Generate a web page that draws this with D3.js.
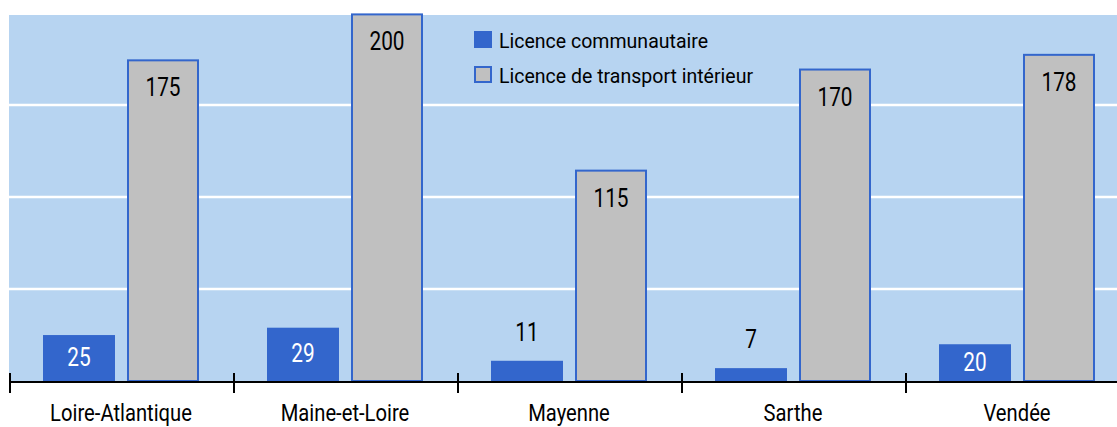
<!DOCTYPE html>
<html>
<head>
<meta charset="utf-8">
<script src="https://cdn.jsdelivr.net/npm/d3@7/dist/d3.min.js"></script>
<style>
  html, body { margin: 0; padding: 0; background: #ffffff; overflow: hidden; }
  svg { display: block; font-family: Roboto, "Liberation Sans", sans-serif; font-weight: 400; }
</style>
</head>
<body>
<svg id="chart" width="1117" height="427"></svg>
<script>
const categories = ["Loire-Atlantique", "Maine-et-Loire", "Mayenne", "Sarthe", "Vendée"];
const seriesNames = ["Licence communautaire", "Licence de transport intérieur"];
const communautaire = [25, 29, 11, 7, 20];
const interieur = [175, 200, 115, 170, 178];
const gridTicks = [50, 100, 150];

const W = 1117, H = 427;
const blue = "#3366cc", gray = "#c0c0c0", bg = "#b7d4f1";
const svg = d3.select("#chart");

const plotLeft = 9, plotTop = 15, baseY = 381, bandW = 224;
const x0 = d3.scaleBand().domain(categories).range([plotLeft, plotLeft + bandW * categories.length]).padding(0);
const x1 = d3.scaleBand().domain(seriesNames).range([34, bandW - 34]).paddingInner(1 / 7).paddingOuter(0);
const y = d3.scaleLinear().domain([0, 200]).range([baseY, 13.4]);

// condensed text helper
function ctext(sel, x, yy, sx) {
  return sel.attr("transform", (d, i) => {
    const xv = typeof x === "function" ? x(d, i) : x;
    const yv = typeof yy === "function" ? yy(d, i) : yy;
    return `translate(${xv},${yv}) scale(${sx},1)`;
  });
}

// background
svg.append("rect").attr("x", plotLeft).attr("y", plotTop).attr("width", W - plotLeft).attr("height", baseY - plotTop).attr("fill", bg);

// gridlines
svg.append("g").selectAll("line").data(gridTicks).join("line")
  .attr("x1", plotLeft).attr("x2", W)
  .attr("y1", d => Math.round(y(d))).attr("y2", d => Math.round(y(d)))
  .attr("stroke", "#ffffff").attr("stroke-width", 2.5);

const data = categories.map((c, i) => ({ cat: c, vals: [communautaire[i], interieur[i]] }));

const groups = svg.append("g").selectAll("g").data(data).join("g")
  .attr("transform", d => `translate(${x0(d.cat)},0)`);

// blue bars
groups.append("rect")
  .attr("x", x1(seriesNames[0])).attr("width", x1.bandwidth())
  .attr("y", d => y(d.vals[0])).attr("height", d => baseY - y(d.vals[0]))
  .attr("fill", blue);

// gray bars
groups.append("rect")
  .attr("x", x1(seriesNames[1]) + 1).attr("width", x1.bandwidth() - 2)
  .attr("y", d => y(d.vals[1]) + 1).attr("height", d => baseY - y(d.vals[1]) - 1)
  .attr("fill", gray).attr("stroke", blue).attr("stroke-width", 2);

// blue labels
ctext(groups.append("text"),
  x1(seriesNames[0]) + x1.bandwidth() / 2,
  d => {
    const h = baseY - y(d.vals[0]);
    return h > 30 ? (y(d.vals[0]) + baseY) / 2 + 8 : y(d.vals[0]) - 20;
  }, 0.8)
  .attr("text-anchor", "middle")
  .attr("font-size", 26)
  .attr("fill", d => (baseY - y(d.vals[0]) > 30 ? "#ffffff" : "#000000"))
  .text(d => d.vals[0]);

// gray labels
ctext(groups.append("text"),
  x1(seriesNames[1]) + x1.bandwidth() / 2,
  d => y(d.vals[1]) + 37, 0.8)
  .attr("text-anchor", "middle")
  .attr("font-size", 26)
  .attr("fill", "#000000")
  .text(d => d.vals[1]);

// axis line
svg.append("line").attr("x1", plotLeft).attr("x2", W).attr("y1", baseY + 1).attr("y2", baseY + 1)
  .attr("stroke", "#000000").attr("stroke-width", 2);

// category ticks at band boundaries
const boundaries = categories.map(c => x0(c));
svg.append("g").selectAll("line").data(boundaries).join("line")
  .attr("x1", d => d + 1).attr("x2", d => d + 1)
  .attr("y1", 373).attr("y2", 393)
  .attr("stroke", "#000000").attr("stroke-width", 2);

// category labels
ctext(svg.append("g").selectAll("text").data(categories).join("text"),
  d => x0(d) + x0.bandwidth() / 2, 421, 0.86)
  .attr("text-anchor", "middle")
  .attr("font-size", 23.5)
  .attr("fill", "#000000")
  .text(d => d);

// legend
const legend = svg.append("g").attr("transform", "translate(474,31)");
const li = legend.selectAll("g").data(seriesNames).join("g")
  .attr("transform", (d, i) => `translate(0,${i * 35})`);
li.append("rect")
  .attr("x", (d, i) => i === 0 ? 0 : 1).attr("y", (d, i) => i === 0 ? 0 : 1)
  .attr("width", (d, i) => i === 0 ? 18 : 16).attr("height", (d, i) => i === 0 ? 17 : 15)
  .attr("fill", (d, i) => i === 0 ? blue : gray)
  .attr("stroke", (d, i) => i === 0 ? "none" : blue)
  .attr("stroke-width", 2);
ctext(li.append("text"), 25, 17, 0.93)
  .attr("font-size", 21)
  .attr("fill", "#000000")
  .text(d => d);
</script>
</body>
</html>
